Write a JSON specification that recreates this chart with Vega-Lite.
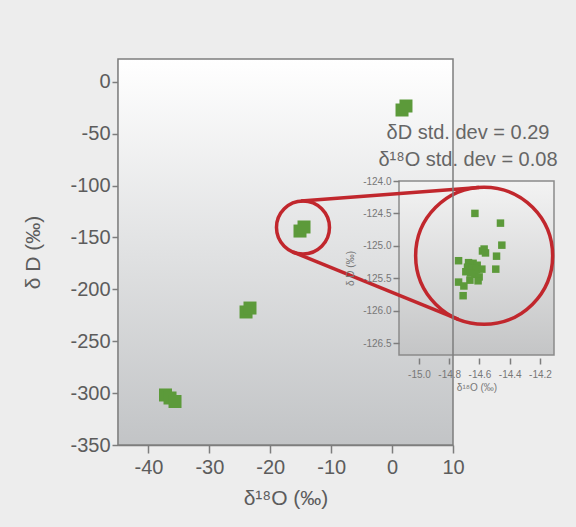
{
  "$schema": "https://vega.github.io/schema/vega-lite/v6.json",
  "width": 335,
  "height": 386,
  "autosize": {"type": "none"},
  "padding": {"left": 118, "top": 59, "right": 123, "bottom": 82},
  "background": "#ededed",
  "config": {"view": {"stroke": null}, "font": "Liberation Sans", "axis": {"grid": false}},
  "datasets": {
    "mainBg": [{"d18O": -45, "d18O_end": 10, "dD": -350, "dD_end": 22}],
    "mainPts": [
      {"d18O": 1.63, "dD": -27.15},
      {"d18O": 2.28, "dD": -23.3},
      {"d18O": -15.12, "dD": -143.8},
      {"d18O": -14.46, "dD": -139.9},
      {"d18O": -23.98, "dD": -221.8},
      {"d18O": -23.33, "dD": -218.0},
      {"d18O": -37.2, "dD": -301.8},
      {"d18O": -36.46, "dD": -304.7},
      {"d18O": -35.64, "dD": -308.1}
    ],
    "mainZoom": [{"d18O": -14.63, "dD": -140.4}],
    "notes": [
      {"d18O": 12.46, "dD": -49.0, "label": "δD std. dev = 0.29"},
      {"d18O": 12.46, "dD": -75.3, "label": "δ¹⁸O std. dev = 0.08"}
    ],
    "insetBg": [{"d18O": -15.132, "d18O_end": -14.107, "dD": -126.685, "dD_end": -124.0}],
    "insetPts": [
      {"d18O": -14.630, "dD": -124.50},
      {"d18O": -14.461, "dD": -124.65},
      {"d18O": -14.452, "dD": -124.99},
      {"d18O": -14.569, "dD": -125.05},
      {"d18O": -14.580, "dD": -125.08},
      {"d18O": -14.560, "dD": -125.11},
      {"d18O": -14.487, "dD": -125.16},
      {"d18O": -14.738, "dD": -125.23},
      {"d18O": -14.672, "dD": -125.26},
      {"d18O": -14.642, "dD": -125.27},
      {"d18O": -14.615, "dD": -125.30},
      {"d18O": -14.679, "dD": -125.33},
      {"d18O": -14.648, "dD": -125.35},
      {"d18O": -14.619, "dD": -125.37},
      {"d18O": -14.584, "dD": -125.36},
      {"d18O": -14.492, "dD": -125.36},
      {"d18O": -14.690, "dD": -125.40},
      {"d18O": -14.659, "dD": -125.42},
      {"d18O": -14.630, "dD": -125.44},
      {"d18O": -14.602, "dD": -125.48},
      {"d18O": -14.663, "dD": -125.53},
      {"d18O": -14.609, "dD": -125.54},
      {"d18O": -14.738, "dD": -125.56},
      {"d18O": -14.703, "dD": -125.62},
      {"d18O": -14.708, "dD": -125.77}
    ],
    "insetZoom": [{"d18O": -14.569, "dD": -125.154}],
    "connectors": [
      {"d18O": -14.955, "dD": -114.95, "d18O_end": 14.27, "dD_end": -101.85},
      {"d18O": -16.27, "dD": -164.05, "d18O_end": 10.89, "dD_end": -228.87}
    ]
  },
  "layer": [
    {
      "layer": [
        {
          "data": {"name": "mainBg"},
          "mark": {"type": "rect", "color": {"gradient": "linear", "x1": 0, "y1": 0, "x2": 0, "y2": 1, "stops": [{"offset": 0, "color": "#ffffff"}, {"offset": 1, "color": "#c2c4c6"}]}},
          "encoding": {
            "x": {"field": "d18O", "type": "quantitative",
              "scale": {"domain": [-45, 10], "nice": false, "zero": false},
              "axis": {"title": "δ¹⁸O (‰)", "values": [-40, -35, -30, -25, -20, -15, -10, -5, 0, 5, 10],
                "labelExpr": "datum.value % 10 === 0 ? '' + datum.value : ''",
                "tickSize": {"condition": {"test": "datum.value % 10 === 0", "value": 8}, "value": 5},
                "tickColor": "#7d7d7d", "tickWidth": 1.5, "domainColor": "#7d7d7d", "domainWidth": 1.5,
                "labelFontSize": 20, "labelColor": "#5c5c5c", "labelPadding": 4, "labelFlush": false, "labelOverlap": false,
                "titleFontSize": 21, "titleColor": "#5c5c5c", "titleFontWeight": "normal", "titlePadding": 10}},
            "x2": {"field": "d18O_end"},
            "y": {"field": "dD", "type": "quantitative",
              "scale": {"domain": [-350, 22], "nice": false, "zero": false},
              "axis": {"title": "δ D (‰)", "values": [-350, -325, -300, -275, -250, -225, -200, -175, -150, -125, -100, -75, -50, -25, 0],
                "labelExpr": "datum.value % 50 === 0 ? '' + datum.value : ''",
                "tickSize": {"condition": {"test": "datum.value % 50 === 0", "value": 6}, "value": 4},
                "tickColor": "#7d7d7d", "tickWidth": 1.5, "domainColor": "#7d7d7d", "domainWidth": 1.5,
                "labelFontSize": 20, "labelColor": "#5c5c5c", "labelPadding": 2, "labelFlush": false, "labelOverlap": false,
                "titleFontSize": 21, "titleColor": "#5c5c5c", "titleFontWeight": "normal", "titlePadding": 26}},
            "y2": {"field": "dD_end"}
          }
        },
        {
          "data": {"name": "mainPts"},
          "mark": {"type": "point", "shape": "square", "filled": true, "size": 169, "color": "#5c9a3a", "opacity": 1},
          "encoding": {
            "x": {"field": "d18O", "type": "quantitative"},
            "y": {"field": "dD", "type": "quantitative"}
          }
        },
        {
          "data": {"name": "mainZoom"},
          "mark": {"type": "point", "shape": "circle", "filled": false, "size": 2809, "stroke": "#c1272d", "strokeWidth": 3.5, "opacity": 1},
          "encoding": {
            "x": {"field": "d18O", "type": "quantitative"},
            "y": {"field": "dD", "type": "quantitative"}
          }
        },
        {
          "data": {"name": "notes"},
          "mark": {"type": "text", "fontSize": 20, "color": "#666666", "align": "center", "baseline": "middle"},
          "encoding": {
            "x": {"field": "d18O", "type": "quantitative"},
            "y": {"field": "dD", "type": "quantitative"},
            "text": {"field": "label"}
          }
        }
      ]
    },
    {
      "layer": [
        {
          "data": {"name": "insetBg"},
          "mark": {"type": "rect", "stroke": "#8a8a8a", "strokeWidth": 1.5, "color": {"gradient": "linear", "x1": 0, "y1": 0, "x2": 0, "y2": 1, "stops": [{"offset": 0, "color": "#f3f3f3"}, {"offset": 1, "color": "#c4c5c6"}]}},
          "encoding": {
            "x": {"field": "d18O", "type": "quantitative",
              "scale": {"domain": [-15.132, -14.107], "range": [281, 436], "nice": false, "zero": false},
              "axis": {"title": "δ¹⁸O (‰)", "orient": "bottom", "offset": -87, "zindex": 1, "values": [-15.0, -14.8, -14.6, -14.4, -14.2],
                "labelExpr": "replace(format(datum.value, '.1f'), '−', '-')",
                "domain": false, "tickSize": 6, "tickColor": "#7d7d7d", "tickWidth": 1.5,
                "labelFontSize": 10, "labelColor": "#777777", "labelPadding": 5, "labelFlush": false, "labelOverlap": false,
                "titleFontSize": 10, "titleColor": "#777777", "titleFontWeight": "normal", "titlePadding": 3}},
            "x2": {"field": "d18O_end"},
            "y": {"field": "dD", "type": "quantitative",
              "scale": {"domain": [-126.685, -124.0], "range": [296, 122], "nice": false, "zero": false},
              "axis": {"title": "δ D (‰)", "orient": "left", "offset": -281, "zindex": 1, "values": [-124.0, -124.5, -125.0, -125.5, -126.0, -126.5],
                "labelExpr": "replace(format(datum.value, '.1f'), '−', '-')",
                "domain": false, "tickSize": 6, "tickColor": "#7d7d7d", "tickWidth": 1.5,
                "labelFontSize": 10, "labelColor": "#777777", "labelPadding": 2, "labelFlush": false, "labelOverlap": false,
                "titleFontSize": 10, "titleColor": "#777777", "titleFontWeight": "normal", "titlePadding": 7}},
            "y2": {"field": "dD_end"}
          }
        },
        {
          "data": {"name": "insetPts"},
          "mark": {"type": "point", "shape": "square", "filled": true, "size": 56, "color": "#5c9a3a", "opacity": 1},
          "encoding": {
            "x": {"field": "d18O", "type": "quantitative"},
            "y": {"field": "dD", "type": "quantitative"}
          }
        },
        {
          "data": {"name": "insetZoom"},
          "mark": {"type": "point", "shape": "circle", "filled": false, "size": 18769, "stroke": "#c1272d", "strokeWidth": 3.5, "opacity": 1},
          "encoding": {
            "x": {"field": "d18O", "type": "quantitative"},
            "y": {"field": "dD", "type": "quantitative"}
          }
        }
      ]
    },
    {
      "layer": [
        {
          "data": {"name": "connectors"},
          "mark": {"type": "rule", "color": "#c1272d", "strokeWidth": 3.5},
          "encoding": {
            "x": {"field": "d18O", "type": "quantitative", "scale": {"domain": [-45, 10], "nice": false, "zero": false}, "axis": null},
            "y": {"field": "dD", "type": "quantitative", "scale": {"domain": [-350, 22], "nice": false, "zero": false}, "axis": null},
            "x2": {"field": "d18O_end"},
            "y2": {"field": "dD_end"}
          }
        },
        {
          "data": {"name": "mainBg"},
          "mark": {"type": "rect", "fill": null, "fillOpacity": 0, "stroke": "#7d7d7d", "strokeWidth": 1.5},
          "encoding": {
            "x": {"field": "d18O", "type": "quantitative"},
            "y": {"field": "dD", "type": "quantitative"},
            "x2": {"field": "d18O_end"},
            "y2": {"field": "dD_end"}
          }
        }
      ]
    }
  ],
  "resolve": {
    "scale": {"x": "independent", "y": "independent"},
    "axis": {"x": "independent", "y": "independent"}
  }
}
